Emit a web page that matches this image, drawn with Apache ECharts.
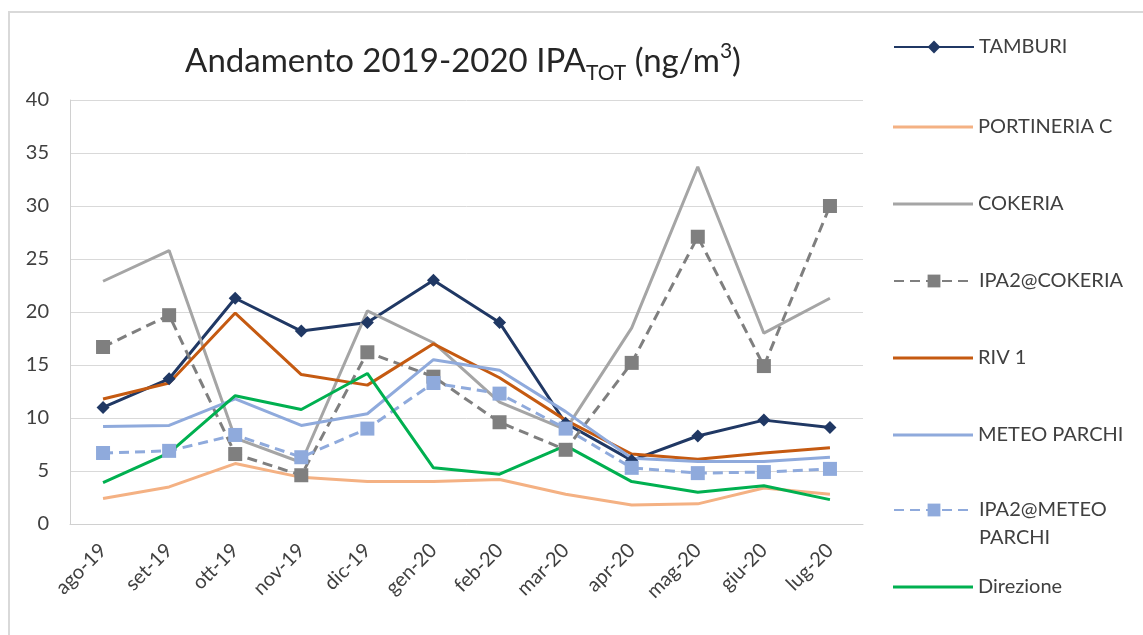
<!DOCTYPE html>
<html>
<head>
<meta charset="utf-8">
<script src="https://cdn.jsdelivr.net/npm/echarts@6/dist/echarts.min.js"></script>
<style>
  html, body { margin: 0; padding: 0; background: #fff; }
  #chart { width: 1143px; height: 635px; }
</style>
</head>
<body>
<div id="chart"></div>
<script>
// Months (Aug 2019 – Jul 2020)
const months = ['ago-19', 'set-19', 'ott-19', 'nov-19', 'dic-19', 'gen-20', 'feb-20', 'mar-20', 'apr-20', 'mag-20', 'giu-20', 'lug-20'];

// Monthly IPA totals (ng/m3) per station
const tamburi        = [11.0, 13.7, 21.3, 18.2, 19.0, 23.0, 19.0, 9.5, 6.0, 8.3, 9.8, 9.1];
const portineriaC    = [2.4, 3.5, 5.7, 4.4, 4.0, 4.0, 4.2, 2.8, 1.8, 1.9, 3.4, 2.8];
const cokeria        = [22.9, 25.8, 8.1, 5.8, 20.1, 17.1, 11.5, 8.9, 18.5, 33.7, 18.0, 21.3];
const ipa2Cokeria    = [16.7, 19.7, 6.6, 4.6, 16.2, 13.9, 9.6, 7.0, 15.2, 27.1, 14.9, 30.0];
const riv1           = [11.8, 13.3, 19.9, 14.1, 13.1, 17.0, 13.8, 9.8, 6.6, 6.1, 6.7, 7.2];
const meteoParchi    = [9.2, 9.3, 11.8, 9.3, 10.4, 15.5, 14.5, 10.6, 6.2, 5.9, 5.9, 6.3];
const ipa2MeteoParchi = [6.7, 6.9, 8.4, 6.3, 9.0, 13.3, 12.3, 9.0, 5.3, 4.8, 4.9, 5.2];
const direzione      = [3.9, 6.7, 12.1, 10.8, 14.2, 5.3, 4.7, 7.4, 4.0, 3.0, 3.6, 2.3];

// Y axis ticks
const yTicks = [0, 5, 10, 15, 20, 25, 30, 35, 40];

const FONT = 'Lato, "Open Sans", sans-serif';
const TEXT = '#404040';

const seriesDefs = [
  { name: 'TAMBURI', data: tamburi, color: '#203864', symbol: 'diamond', size: 13, dash: 'solid' },
  { name: 'PORTINERIA C', data: portineriaC, color: '#F4B183', symbol: 'none', dash: 'solid' },
  { name: 'COKERIA', data: cokeria, color: '#A5A5A5', symbol: 'none', dash: 'solid' },
  { name: 'IPA2@COKERIA', data: ipa2Cokeria, color: '#7F7F7F', symbol: 'rect', size: 14, dash: [10, 6] },
  { name: 'RIV 1', data: riv1, color: '#C55A11', symbol: 'none', dash: 'solid' },
  { name: 'METEO PARCHI', data: meteoParchi, color: '#8FAADC', symbol: 'none', dash: 'solid' },
  { name: 'IPA2@METEO PARCHI', data: ipa2MeteoParchi, color: '#8FAADC', symbol: 'rect', size: 14, dash: [10, 6] },
  { name: 'Direzione', data: direzione, color: '#00B050', symbol: 'none', dash: 'solid' }
];

// vertical centre of each legend entry's key, down the right side
const legendCentres = [47, 127, 204, 281, 358, 435, 510, 587];
const LEG_FS = 20, LEG_LH = 24;

const legends = seriesDefs.map((s, i) => {
  const wrap = s.name === 'IPA2@METEO PARCHI';
  const plain = s.symbol === 'none';
  const ih = plain ? 3 : 16;
  const lh = wrap ? 28 : LEG_LH;
  const textStyle = { fontFamily: FONT, fontSize: LEG_FS, color: TEXT, lineHeight: lh };
  // the wrapped label gets a blank first line so "IPA2@METEO" sits level with the key
  const boxH = wrap ? lh * 3 : Math.max(lh, ih);
  const top = Math.round(legendCentres[i] - boxH / 2);
  const item = { name: s.name };
  if (plain) {
    item.icon = 'rect';
    item.itemStyle = { color: s.color };
  }
  return {
    orient: 'vertical',
    left: 893,
    top: top,
    padding: 0,
    itemWidth: 80,
    itemHeight: ih,
    selectedMode: false,
    formatter: wrap ? ' \nIPA2@METEO\nPARCHI' : '{name}',
    textStyle: textStyle,
    data: [item]
  };
});

const chart = echarts.init(document.getElementById('chart'), null, { renderer: 'canvas' });

const titleBase = { fontFamily: FONT, color: '#262626', fontWeight: 'normal', verticalAlign: 'bottom', lineHeight: 40 };

chart.setOption({
  backgroundColor: '#ffffff',
  animation: false,
  title: {
    text: '{main|Andamento 2019-2020 IPA}{sub|TOT}{main| (ng/m}{sup|3}{main|)}',
    left: 458,
    textAlign: 'center',
    top: 33,
    textStyle: {
      fontWeight: 'normal',
      rich: {
        main: Object.assign({}, titleBase, { fontSize: 33 }),
        sub: Object.assign({}, titleBase, { fontSize: 21, padding: [0, 0, -6, 0] }),
        sup: Object.assign({}, titleBase, { fontSize: 21, padding: [0, 0, 16, 0] })
      }
    }
  },
  graphic: [{
    type: 'rect',
    shape: { x: 9, y: 12, width: 1300, height: 800 },
    style: { fill: 'none', stroke: '#D9D9D9', lineWidth: 2 },
    silent: true,
    z: -1
  }],
  legend: legends,
  grid: { left: 70, right: 280, top: 100, bottom: 111, containLabel: false },
  xAxis: {
    type: 'category',
    data: months,
    boundaryGap: true,
    axisLine: { show: true, lineStyle: { color: '#D0D0D0', width: 1 } },
    axisTick: { show: false },
    axisLabel: { rotate: 45, margin: 23, fontFamily: FONT, fontSize: 20, color: TEXT }
  },
  yAxis: {
    type: 'value',
    min: yTicks[0],
    max: yTicks[yTicks.length - 1],
    interval: yTicks[1] - yTicks[0],
    axisLine: { show: true, lineStyle: { color: '#D0D0D0', width: 1 } },
    axisTick: { show: false },
    axisLabel: { margin: 21, fontFamily: FONT, fontSize: 20, color: TEXT },
    splitLine: { show: true, lineStyle: { color: '#D9D9D9', width: 1 } }
  },
  series: seriesDefs.map(s => ({
    name: s.name,
    type: 'line',
    data: s.data,
    symbol: s.symbol,
    symbolSize: s.size || 0,
    showSymbol: s.symbol !== 'none',
    lineStyle: { color: s.color, width: 3, type: s.dash },
    itemStyle: { color: s.color },
    emphasis: { disabled: true }
  }))
});
</script>
</body>
</html>
